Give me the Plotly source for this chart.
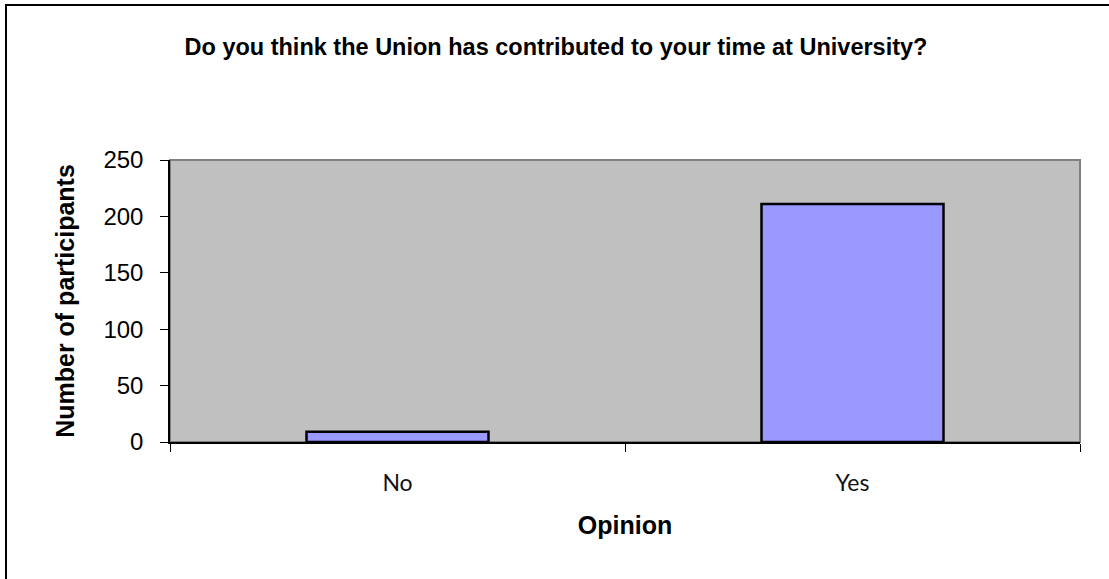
import plotly.graph_objects as go

# Survey responses
opinions = ["No", "Yes"]
participants = [9, 211]

title_text = "Do you think the Union has contributed to your time at University?"
x_title = "Opinion"
y_title = "Number of participants"
y_ticks = [0, 50, 100, 150, 200, 250]

fig = go.Figure(
    go.Bar(
        x=opinions,
        y=participants,
        width=0.4,
        marker=dict(color="#9999FF", line=dict(color="#000000", width=2.5)),
    )
)

W, H = 1109, 579
L, R, T, B = 170, 29, 160, 137
pw, ph = W - L - R, H - T - B


def px_x(x):
    return (x - L) / pw


def px_y(y):
    return (H - B - y) / ph


fig.update_layout(
    width=W,
    height=H,
    margin=dict(l=L, r=R, t=T, b=B, pad=0),
    paper_bgcolor="white",
    plot_bgcolor="#C0C0C0",
    font=dict(family="Liberation Sans, Arial, sans-serif", color="black"),
    showlegend=False,
    title=dict(
        text="<b>" + title_text + "</b>",
        x=px_x(556), xref="paper", xanchor="center",
        y=1 - 47 / H, yref="container", yanchor="middle",
        font=dict(size=23.5),
    ),
    xaxis=dict(
        showline=True, linecolor="black", linewidth=1.5,
        ticks="outside", tickson="boundaries", ticklen=8, tickcolor="black",
        tickfont=dict(family="Lato, sans-serif", size=23, color="#111"),
        ticklabelstandoff=20,
        showgrid=False, zeroline=False,
        title=dict(text="<b>" + x_title + "</b>", font=dict(size=25), standoff=21),
    ),
    yaxis=dict(
        range=[0, 250], tickvals=y_ticks,
        showline=True, linecolor="black", linewidth=1.5,
        ticks="outside", ticklen=8, tickcolor="black",
        tickfont=dict(size=24),
        ticklabelstandoff=12,
        showgrid=False, zeroline=False,
        title=dict(text="<b>" + y_title + "</b>", font=dict(size=25), standoff=22),
    ),
    shapes=[
        # grey frame on top/right of the plotting area
        dict(type="rect", xref="paper", yref="paper", x0=0, x1=1, y0=0, y1=1,
             line=dict(color="#808080", width=2), layer="below"),
        # outer chart border
        dict(type="rect", xref="paper", yref="paper",
             x0=px_x(6), x1=px_x(W + 20), y0=px_y(H + 20), y1=px_y(5),
             line=dict(color="black", width=2)),
    ],
)

fig.write_html("out.html")
